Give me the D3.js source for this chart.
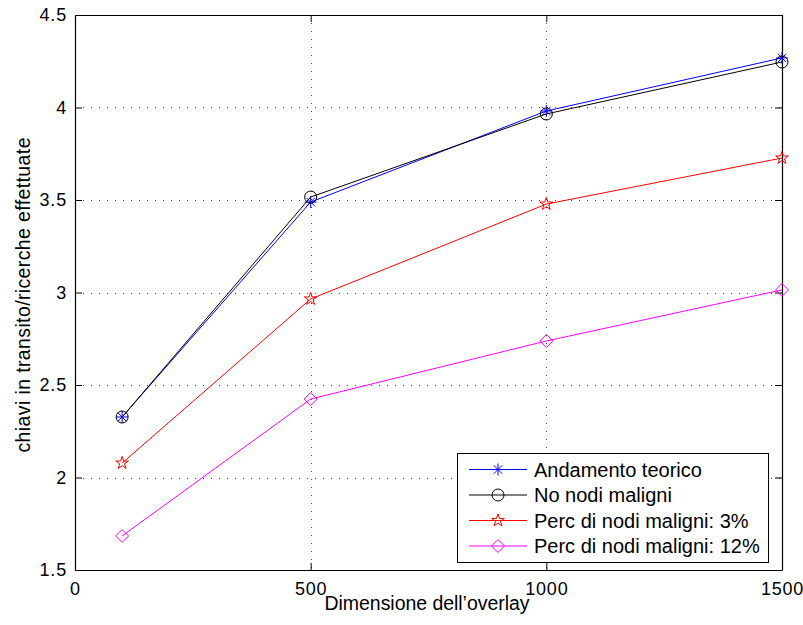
<!DOCTYPE html>
<html>
<head>
<meta charset="utf-8">
<script src="https://cdn.jsdelivr.net/npm/d3@7"></script>
<style>
  body { margin: 0; background: #fff; }
  svg { display: block; font-family: "Liberation Sans", Arial, Helvetica, sans-serif; }
</style>
</head>
<body>
<div id="chart"></div>
<script>
'use strict';

var xValues = [100, 500, 1000, 1500],
    xTicks = [0, 500, 1000, 1500],
    yTicks = [1.5, 2, 2.5, 3, 3.5, 4, 4.5],
    seriesNames = ['Andamento teorico', 'No nodi maligni', 'Perc di nodi maligni: 3%', 'Perc di nodi maligni: 12%'],
    seriesColors = ['#0000ff', '#000000', '#ff0000', '#ff00ff'],
    seriesMarkers = ['asterisk', 'circle', 'star', 'diamond'],
    teorico = [2.327, 3.489, 3.981, 4.268],
    noMaligni = [2.327, 3.516, 3.965, 4.246],
    maligni3 = [2.078, 2.965, 3.478, 3.727],
    maligni12 = [1.684, 2.424, 2.738, 3.014],
    seriesValues = [teorico, noMaligni, maligni3, maligni12];

var width = 803,
    height = 625,
    margin = { top: 15, right: 21, bottom: 55, left: 75 },
    innerW = width - margin.left - margin.right,
    innerH = height - margin.top - margin.bottom,
    tickLen = 7;

var svg = d3.select('#chart').append('svg').attr('width', width).attr('height', height),
    g = svg.append('g').attr('transform', 'translate(' + margin.left + ',' + margin.top + ')');

var x = d3.scaleLinear().domain([0, 1500]).range([0, innerW]),
    y = d3.scaleLinear().domain([1.5, 4.5]).range([innerH, 0]);

// dotted grid
g.append('g').selectAll('line').data(xTicks.slice(1, -1)).enter().append('line')
    .attr('x1', function (d) { return Math.round(x(d)) + 0.5; })
    .attr('x2', function (d) { return Math.round(x(d)) + 0.5; })
    .attr('y1', 0).attr('y2', innerH)
    .attr('stroke', '#444').attr('stroke-width', 1).attr('stroke-dasharray', '1,7');

g.append('g').selectAll('line').data(yTicks.slice(1, -1)).enter().append('line')
    .attr('y1', function (d) { return Math.round(y(d)) + 0.5; })
    .attr('y2', function (d) { return Math.round(y(d)) + 0.5; })
    .attr('x1', 0).attr('x2', innerW)
    .attr('stroke', '#444').attr('stroke-width', 1).attr('stroke-dasharray', '1,7');

// axes, ticks pointing inward on every side
var fmt = function (d) { return d3.format('')(d); };
var xBottom = g.append('g').attr('transform', 'translate(0,' + innerH + ')')
    .call(d3.axisBottom(x).tickValues(xTicks).tickFormat(fmt).tickSizeInner(-tickLen).tickSizeOuter(0).tickPadding(12));
var xTop = g.append('g')
    .call(d3.axisTop(x).tickValues(xTicks).tickFormat('').tickSizeInner(-tickLen).tickSizeOuter(0));
var yLeft = g.append('g')
    .call(d3.axisLeft(y).tickValues(yTicks).tickFormat(fmt).tickSizeInner(-tickLen).tickSizeOuter(0).tickPadding(8));
var yRight = g.append('g').attr('transform', 'translate(' + innerW + ',0)')
    .call(d3.axisRight(y).tickValues(yTicks).tickFormat('').tickSizeInner(-tickLen).tickSizeOuter(0));

[xBottom, xTop, yLeft, yRight].forEach(function (a) {
    a.select('.domain').attr('stroke', '#000').attr('stroke-width', 1.2);
    a.selectAll('.tick line').attr('stroke', '#000');
    a.selectAll('.tick text').attr('fill', '#000').style('font-size', '18px').style('letter-spacing', '0.8px');
});

// axis labels
svg.append('text').attr('x', 427).attr('y', 610)
    .attr('text-anchor', 'middle').style('font-size', '19.5px')
    .attr('textLength', 205).attr('lengthAdjust', 'spacing')
    .text('Dimensione dell\u2019overlay');
svg.append('text').attr('transform', 'translate(30,295) rotate(-90)')
    .attr('text-anchor', 'middle').style('font-size', '19.5px')
    .attr('textLength', 315).attr('lengthAdjust', 'spacing')
    .text('chiavi in transito/ricerche effettuate');

// markers
function drawMarker(sel, type, color) {
    var r = 6;
    if (type === 'circle') {
        sel.append('circle').attr('r', 6).attr('fill', 'none').attr('stroke', color).attr('stroke-width', 1);
    } else if (type === 'diamond') {
        sel.append('path').attr('d', 'M0,-6.5L6.5,0L0,6.5L-6.5,0Z').attr('fill', 'none').attr('stroke', color).attr('stroke-width', 1);
    } else if (type === 'star') {
        sel.append('path').attr('d', d3.symbol().type(d3.symbolStar).size(50)()).attr('fill', 'none').attr('stroke', color).attr('stroke-width', 1);
    } else {
        var p = '';
        [0, 45, 90, 135].forEach(function (a) {
            var dx = r * Math.cos(a * Math.PI / 180), dy = r * Math.sin(a * Math.PI / 180);
            p += 'M' + (-dx) + ',' + (-dy) + 'L' + dx + ',' + dy;
        });
        sel.append('path').attr('d', p).attr('stroke', color).attr('stroke-width', 1);
    }
}

var line = d3.line().x(function (d, i) { return x(xValues[i]); }).y(function (d) { return y(d); });

seriesValues.forEach(function (vals, s) {
    var sg = g.append('g');
    sg.append('path').datum(vals).attr('d', line)
        .attr('fill', 'none').attr('stroke', seriesColors[s]).attr('stroke-width', 1);
    sg.selectAll('.mk').data(vals).enter().append('g').attr('class', 'mk')
        .attr('transform', function (d, i) { return 'translate(' + x(xValues[i]) + ',' + y(d) + ')'; })
        .each(function () { drawMarker(d3.select(this), seriesMarkers[s], seriesColors[s]); });
});

// legend
var lg = svg.append('g').attr('transform', 'translate(457,453)');
lg.append('rect').attr('x', 0.5).attr('y', 0.5).attr('width', 311).attr('height', 109)
    .attr('fill', '#fff').attr('stroke', '#000').attr('stroke-width', 1);
seriesNames.forEach(function (name, s) {
    var row = lg.append('g').attr('transform', 'translate(0,' + (16.5 + s * 25.5) + ')');
    row.append('line').attr('x1', 12).attr('x2', 70).attr('stroke', seriesColors[s]).attr('stroke-width', 1);
    drawMarker(row.append('g').attr('transform', 'translate(41,0)'), seriesMarkers[s], seriesColors[s]);
    row.append('text').attr('x', 77).attr('dy', '0.35em')
        .style('font-size', '20px').text(name);
});
</script>
</body>
</html>
